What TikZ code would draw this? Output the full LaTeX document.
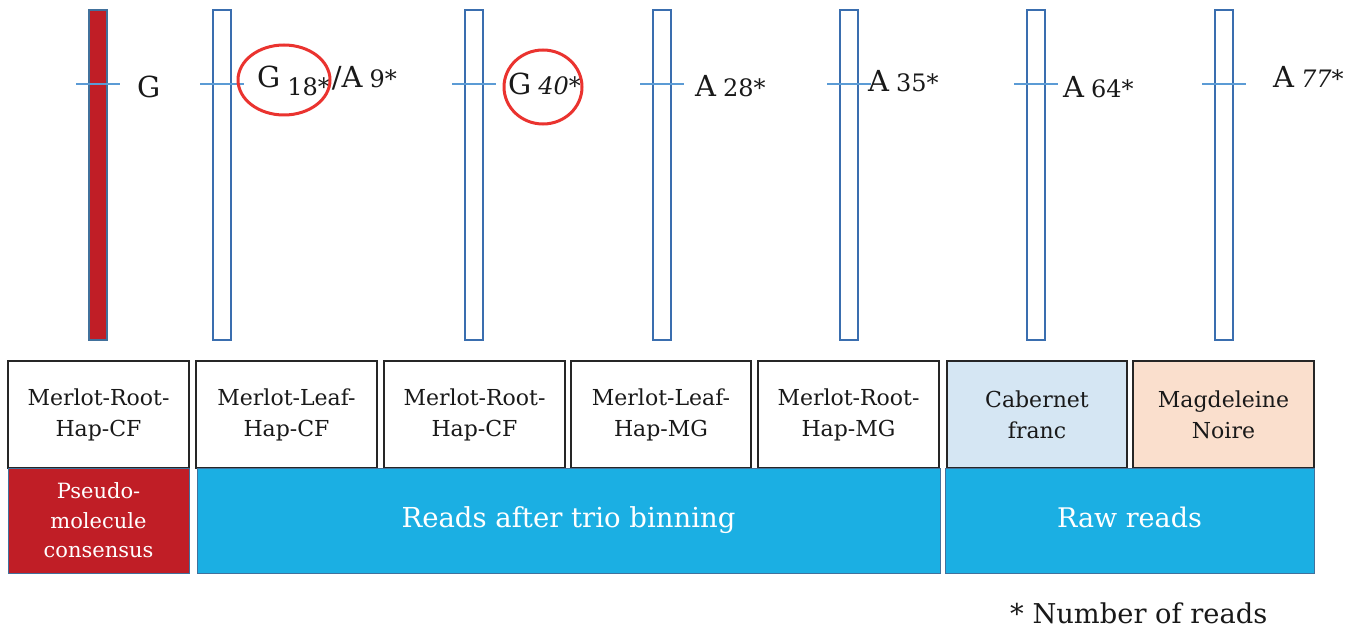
\documentclass[tikz,border=0pt]{standalone}
\usepackage{fontspec}
\setmainfont{DejaVu Serif}
\definecolor{cred}{RGB}{192,30,38}
\definecolor{ccyan}{RGB}{27,175,227}
\definecolor{cedge}{RGB}{65,113,156}
\definecolor{cbar}{RGB}{58,110,175}
\definecolor{ctick}{RGB}{91,155,213}
\definecolor{clblue}{RGB}{213,230,243}
\definecolor{cpeach}{RGB}{250,223,205}
\definecolor{cring}{RGB}{234,51,47}
\definecolor{ctext}{RGB}{25,25,25}
\newcommand{\bigtxt}[1]{{\fontsize{29}{29}\selectfont #1}}
\newcommand{\smltxt}[1]{{\fontsize{24}{24}\selectfont #1}}
\newcommand{\gap}{\hspace{7pt}}
\begin{document}
\begin{tikzpicture}[x=1pt,y=-1pt,
  bar/.style={draw=cbar,line width=1.3pt,fill=white,minimum width=18pt,minimum height=330pt,inner sep=0pt},
  redbar/.style={bar,fill=cred,draw=cedge},
  tick/.style={draw=ctick,line width=1.3pt},
  lab/.style={draw=black!85,line width=1.6pt,fill=white,minimum height=107pt,inner sep=0pt,align=center,
     font=\fontsize{22}{31}\selectfont,text=ctext},
  grp/.style={draw=cedge,line width=1pt,minimum height=105pt,inner sep=0pt,align=center,text=white},
  allele/.style={anchor=base west,inner sep=0pt,text=ctext},
  ring/.style={draw=cring,line width=3pt}
]
\useasboundingbox (0,0) rectangle (1354,631);
% bars
\node[redbar] (b1) at (98,175) {};
\node[bar] (b2) at (222,175) {};
\node[bar] (b3) at (474,175) {};
\node[bar] (b4) at (662,175) {};
\node[bar] (b5) at (849,175) {};
\node[bar] (b6) at (1036,175) {};
\node[bar] (b7) at (1224,175) {};
% ticks
\foreach \b in {b1,b2,b3,b4,b5,b6,b7}{
  \draw[tick] ([xshift=-22pt]\b.center |- 0,84) -- ([xshift=22pt]\b.center |- 0,84);
}
% allele labels
\node[allele] (l1) at (137,98) {\bigtxt{G}};
\node[allele] (l2) at (257,88) {\bigtxt{G}\gap\raisebox{-8pt}{\smltxt{18*}}\hspace{2pt}\bigtxt{/A}\gap\smltxt{9*}};
\node[allele] (l3) at (508,95) {\bigtxt{G}\gap\smltxt{\itshape 40*}};
\node[allele] (l4) at (695,97) {\bigtxt{A}\gap\smltxt{28*}};
\node[allele] (l5) at (868,92) {\bigtxt{A}\gap\smltxt{35*}};
\node[allele] (l6) at (1063,98) {\bigtxt{A}\gap\smltxt{64*}};
\node[allele] (l7) at (1273,88) {\bigtxt{A}\gap\smltxt{\itshape 77*}};
% rings
\draw[ring] (284,80) ellipse [x radius=46pt, y radius=35pt];
\draw[ring] (543,87) ellipse [x radius=39pt, y radius=37pt];
% label boxes
\node[lab,minimum width=181pt] (t1) at (98.5,414.5) {Merlot-Root-\\Hap-CF};
\node[lab,minimum width=181pt] (t2) at (286.5,414.5) {Merlot-Leaf-\\Hap-CF};
\node[lab,minimum width=181pt] (t3) at (474.5,414.5) {Merlot-Root-\\Hap-CF};
\node[lab,minimum width=180pt] (t4) at (661,414.5) {Merlot-Leaf-\\Hap-MG};
\node[lab,minimum width=181pt] (t5) at (848.5,414.5) {Merlot-Root-\\Hap-MG};
\node[lab,minimum width=180pt,fill=clblue] (t6) at (1037,414.5) {Cabernet\\franc};
\node[lab,minimum width=181pt,fill=cpeach] (t7) at (1223.5,414.5) {Magdeleine\\Noire};
% group boxes
\node[grp,fill=cred,minimum width=181pt,font=\fontsize{21}{29.5}\selectfont] (g1) at (98.5,520.5) {Pseudo-\\molecule\\consensus};
\node[grp,fill=ccyan,minimum width=743pt,font=\fontsize{27.5}{30}\selectfont] (g2) at (568.5,520.5) {Reads after trio binning};
\node[grp,fill=ccyan,minimum width=369pt,font=\fontsize{27}{30}\selectfont] (g3) at (1129.5,520.5) {Raw reads\vphantom{g}};
% footnote
\node[anchor=base west,inner sep=0pt,text=ctext,font=\fontsize{27.3}{27.3}\selectfont] (fn) at (1010,623) {* Number of reads};
\end{tikzpicture}
\end{document}
